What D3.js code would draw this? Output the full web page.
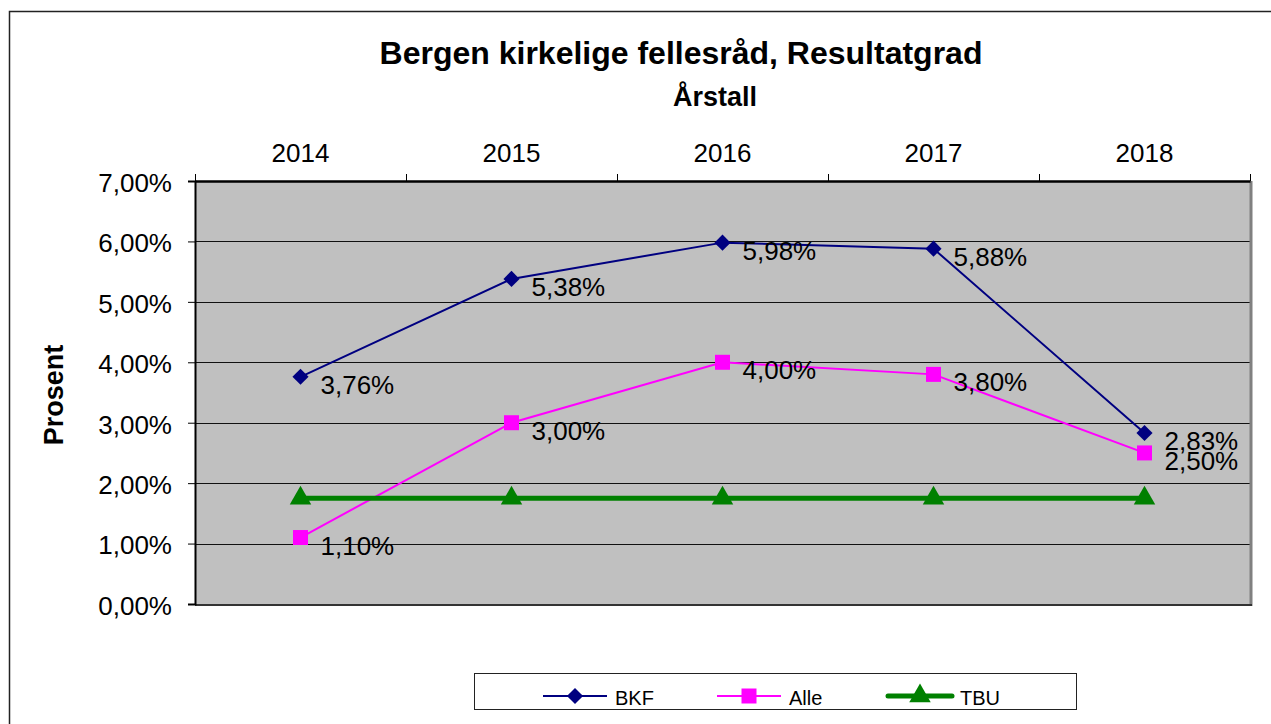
<!DOCTYPE html>
<html>
<head>
<meta charset="utf-8">
<script src="https://cdn.jsdelivr.net/npm/d3@7"></script>
<style>
  body { margin: 0; background: #fff; }
  svg { font-family: "Liberation Sans", Arial, sans-serif; }
</style>
</head>
<body>
<script>
// chart data
const years = ["2014", "2015", "2016", "2017", "2018"];
const bkf = [3.76, 5.38, 5.98, 5.88, 2.83];
const alle = [1.10, 3.00, 4.00, 3.80, 2.50];
const tbu = [1.75, 1.75, 1.75, 1.75, 1.75];
const yTicks = [0, 1, 2, 3, 4, 5, 6, 7];

const width = 1271, height = 724;
const plot = { left: 195, right: 1250, top: 181, bottom: 604 };

const svg = d3.select("body").append("svg")
  .attr("width", width)
  .attr("height", height);

// outer chart frame
svg.append("rect")
  .attr("x", 9.5).attr("y", 11.5)
  .attr("width", 1300).attr("height", 800)
  .style("fill", "#fff")
  .style("stroke", "#222")
  .style("stroke-width", 1.5);

const xScale = d3.scaleBand()
  .domain(years)
  .range([plot.left, plot.right]);

const yScale = d3.scaleLinear()
  .domain([0, 7])
  .range([plot.bottom, plot.top]);

const pct = (v) => d3.format(".2f")(v).replace(".", ",") + "%";

// plot background
svg.append("rect")
  .attr("x", plot.left).attr("y", plot.top)
  .attr("width", plot.right - plot.left)
  .attr("height", plot.bottom - plot.top)
  .style("fill", "#C0C0C0");

// grid lines
svg.selectAll(".grid")
  .data(yTicks.slice(1))
  .enter()
  .append("line")
  .attr("class", "grid")
  .attr("x1", plot.left).attr("x2", plot.right)
  .attr("y1", (d) => Math.round(yScale(d)) + 0.5)
  .attr("y2", (d) => Math.round(yScale(d)) + 0.5)
  .style("stroke", "#111")
  .style("stroke-width", 1);

// shadowed right / bottom borders
svg.append("line")
  .attr("x1", plot.right + 1).attr("x2", plot.right + 1)
  .attr("y1", plot.top).attr("y2", plot.bottom + 2)
  .style("stroke", "#808080").style("stroke-width", 3);
svg.append("line")
  .attr("x1", plot.left).attr("x2", plot.right + 2)
  .attr("y1", plot.bottom + 1).attr("y2", plot.bottom + 1)
  .style("stroke", "#333").style("stroke-width", 2);

// y axis
const yAxis = svg.append("g")
  .attr("class", "axis")
  .attr("transform", `translate(${plot.left}, 0)`)
  .call(d3.axisLeft(yScale).tickValues(yTicks).tickSize(7).tickPadding(16).tickFormat(pct));

yAxis.select(".domain").style("stroke", "#000").style("stroke-width", 2);
yAxis.selectAll("line").style("stroke", "#000");
yAxis.selectAll("text")
  .attr("dy", "0.4em")
  .style("font-size", "26px")
  .style("fill", "#000");

// top axis: labels at centres, ticks at category edges
const xAxis = svg.append("g")
  .attr("class", "axis")
  .attr("transform", `translate(0, ${plot.top})`)
  .call(d3.axisTop(xScale).tickSize(0).tickPadding(19));

xAxis.select(".domain").style("stroke", "#000").style("stroke-width", 2.5);
xAxis.selectAll("text")
  .style("font-size", "26px")
  .style("fill", "#000");

const edges = years.map((d) => xScale(d)).concat([plot.right]);
svg.selectAll(".xtick")
  .data(edges)
  .enter()
  .append("line")
  .attr("class", "xtick")
  .attr("x1", (d) => d + 0.5).attr("x2", (d) => d + 0.5)
  .attr("y1", plot.top - 7).attr("y2", plot.top)
  .style("stroke", "#000");

// titles
svg.append("text")
  .attr("x", 681).attr("y", 64)
  .attr("text-anchor", "middle")
  .style("font-size", "32px").style("font-weight", "bold")
  .text("Bergen kirkelige fellesråd, Resultatgrad");

svg.append("text")
  .attr("x", 715).attr("y", 106)
  .attr("text-anchor", "middle")
  .style("font-size", "27px").style("font-weight", "bold")
  .text("Årstall");

svg.append("text")
  .attr("transform", "translate(63, 395) rotate(-90)")
  .attr("text-anchor", "middle")
  .style("font-size", "27px").style("font-weight", "bold")
  .text("Prosent");

// series
const series = [
  { name: "BKF", values: bkf, color: "#000080", width: 2, symbol: d3.symbolSquare, size: 130, rotate: 45, labels: true },
  { name: "Alle", values: alle, color: "#FF00FF", width: 2, symbol: d3.symbolSquare, size: 225, rotate: 0, labels: true },
  { name: "TBU", values: tbu, color: "#008000", width: 5, symbol: d3.symbolTriangle, size: 200, rotate: 0, labels: false }
];

const cx = (i) => xScale(years[i]) + xScale.bandwidth() / 2;

const line = d3.line()
  .x((d, i) => cx(i))
  .y((d) => yScale(d));

series.forEach((s) => {
  svg.append("path")
    .datum(s.values)
    .attr("d", line)
    .style("fill", "none")
    .style("stroke", s.color)
    .style("stroke-width", s.width);

  svg.selectAll(".pt-" + s.name)
    .data(s.values)
    .enter()
    .append("path")
    .attr("class", "pt-" + s.name)
    .attr("d", d3.symbol().type(s.symbol).size(s.size))
    .attr("transform", (d, i) => `translate(${cx(i)}, ${yScale(d)}) rotate(${s.rotate})`)
    .style("fill", s.color);
});

// data labels
series.filter((s) => s.labels).forEach((s) => {
  svg.selectAll(".lbl-" + s.name)
    .data(s.values)
    .enter()
    .append("text")
    .attr("class", "lbl-" + s.name)
    .attr("x", (d, i) => cx(i) + 20)
    .attr("y", (d) => yScale(d) + 8)
    .attr("dominant-baseline", "central")
    .style("font-size", "26px")
    .style("fill", "#000")
    .text(pct);
});

// legend
const legend = svg.append("g").attr("transform", "translate(474, 673)");
legend.append("rect")
  .attr("x", 0.5).attr("y", 0.5)
  .attr("width", 602).attr("height", 36)
  .style("fill", "#fff")
  .style("stroke", "#222");

const legendX = [69, 243, 414];
series.forEach((s, i) => {
  const g = legend.append("g").attr("transform", `translate(${legendX[i]}, 23)`);
  g.append("line")
    .attr("x1", 0).attr("x2", 64)
    .attr("y1", 0).attr("y2", 0)
    .style("stroke", s.color)
    .style("stroke-width", s.width)
    .style("stroke-linecap", s.width > 3 ? "round" : "butt");
  g.append("path")
    .attr("d", d3.symbol().type(s.symbol).size(s.size))
    .attr("transform", `translate(32, 0) rotate(${s.rotate})`)
    .style("fill", s.color);
  g.append("text")
    .attr("x", 72).attr("y", 2)
    .attr("dominant-baseline", "central")
    .style("font-size", "20px")
    .text(s.name);
});
</script>
</body>
</html>
